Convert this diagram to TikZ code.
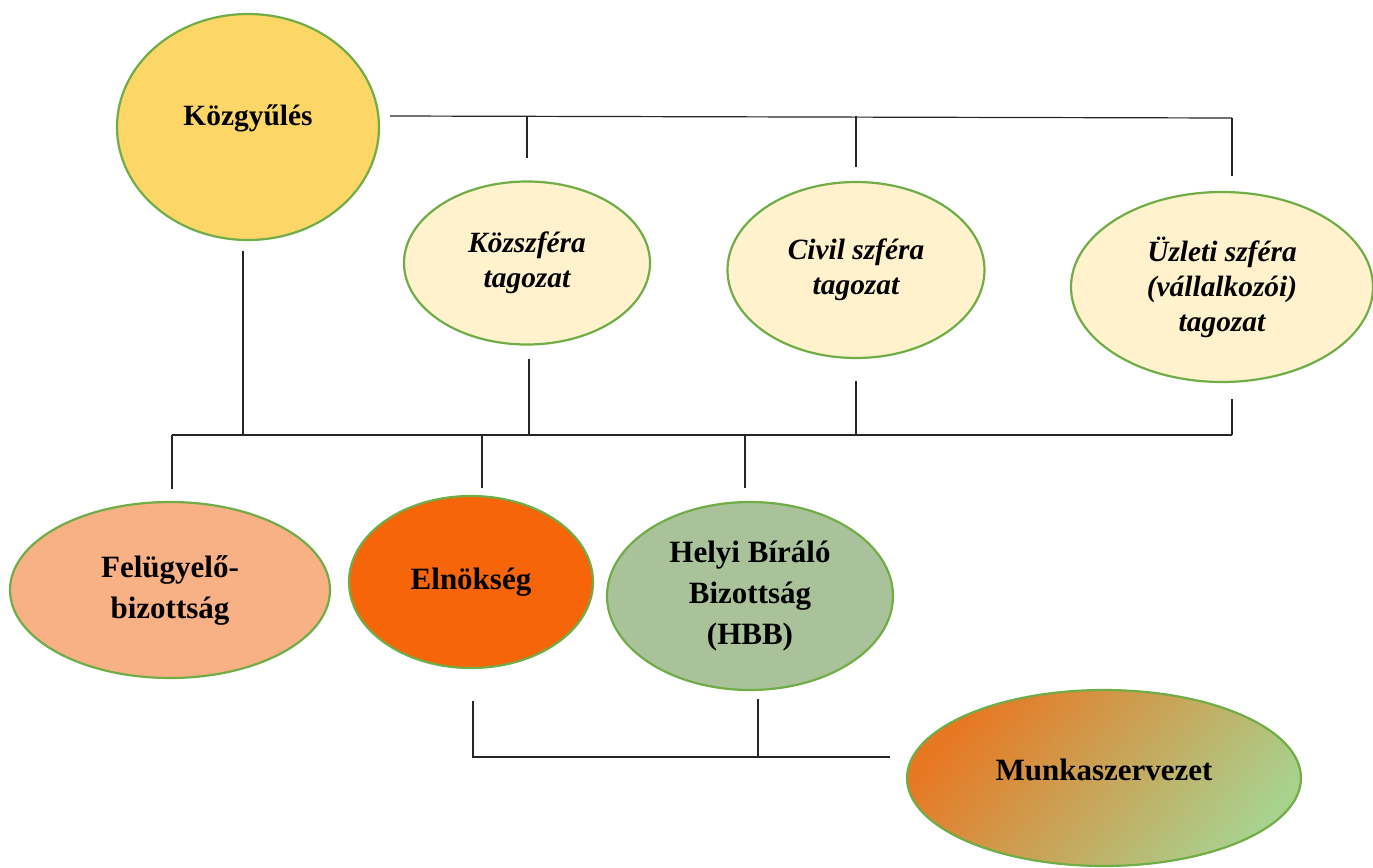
\documentclass[tikz,border=0pt]{standalone}
\usepackage{fontspec}
\setmainfont{Liberation Serif}
\usetikzlibrary{shapes.geometric}
\definecolor{rim}{HTML}{70AD47}
\definecolor{gyfill}{HTML}{FCD667}
\definecolor{tagfill}{HTML}{FFF2CC}
\definecolor{fbfill}{HTML}{F8B085}
\definecolor{elfill}{HTML}{F6650A}
\definecolor{hbfill}{HTML}{A9C29A}
\definecolor{mkorange}{HTML}{E87722}
\definecolor{mkgreen}{HTML}{A9D18E}

\begin{document}
\begin{tikzpicture}[x=0.5pt,y=-0.5pt,
    org/.style = {ellipse,draw=rim,line width=1.1pt,inner sep=0pt,align=center,font=\bfseries\fontsize{14.7}{17.5}\selectfont},
    tag/.style = {org,fill=tagfill,font=\bfseries\itshape\fontsize{14.7}{17.5}\selectfont},
    low/.style = {org,font=\bfseries\fontsize{15.5}{20.5}\selectfont},
    wire/.style = {line width=0.6pt,black!85}]
\useasboundingbox (0,0) rectangle (1373,868);

\node[org,fill=gyfill,minimum width=131pt,minimum height=113pt,text depth=12pt] (kgy) at (248,127) {Közgyűlés};
\node[tag,minimum width=123pt,minimum height=81.5pt] (kszf) at (527,263) {Közszféra\\tagozat};
\node[tag,minimum width=128.5pt,minimum height=88pt] (civ) at (856,270) {Civil szféra\\tagozat};
\node[tag,minimum width=151pt,minimum height=95pt] (uzl) at (1222,287) {Üzleti szféra\\(vállalkozói)\\tagozat};

\node[low,fill=fbfill,minimum width=160pt,minimum height=88pt] (felu) at (170,590) {Felügyelő-\\bizottság};
\node[low,fill=elfill,minimum width=122pt,minimum height=86pt] (eln) at (471,582) {Elnökség};
\node[low,fill=hbfill,minimum width=143pt,minimum height=94pt] (hbb) at (750,596) {Helyi Bíráló\\Bizottság\\(HBB)};
\node[low,top color=mkorange,bottom color=mkgreen,shading angle=50,minimum width=197pt,minimum height=88pt,text depth=8pt] (munk) at (1104,778) {Munkaszervezet};

% upper bus
\coordinate (topL) at (390,116);
\coordinate (topR) at (1232,118);
\draw[wire] (topL) -- (topR);
\foreach \n/\g in {kszf/11pt,civ/7pt} \draw[wire,shorten >=\g] (\n.north |- topL) -- (\n.north);
\draw[wire,shorten >=7.5pt] (topR) -- (topR |- uzl.north);

% lower bus
\coordinate (botL) at (172,435);
\coordinate (botR) at (1232,435);
\draw[wire] (botL) -- (botR);
\foreach \n/\g/\s in {kgy/5pt/-2.5pt,kszf/6.5pt/1pt,civ/11pt/0pt}
    \draw[wire,shorten <=\g] ([xshift=\s]\n.south) coordinate (up) -- (up |- botL);
\draw[wire,shorten >=8pt] (botR) -- (botR |- uzl.south);
\foreach \n/\g/\s in {felu/6pt/1pt,eln/3.5pt/5.5pt,hbb/6.5pt/-2.5pt}
    \draw[wire,shorten <=\g] ([xshift=\s]\n.north) coordinate (dn) -- (dn |- botL);

% to Munkaszervezet
\coordinate (mbus) at (890,757);
\draw[wire,shorten <=16pt] ([xshift=1pt]eln.south) coordinate (elnd) -- (elnd |- mbus) -- (mbus);
\draw[wire,shorten <=4pt] ([xshift=4pt]hbb.south) coordinate (hbbd) -- (hbbd |- mbus);
\end{tikzpicture}
\end{document}
